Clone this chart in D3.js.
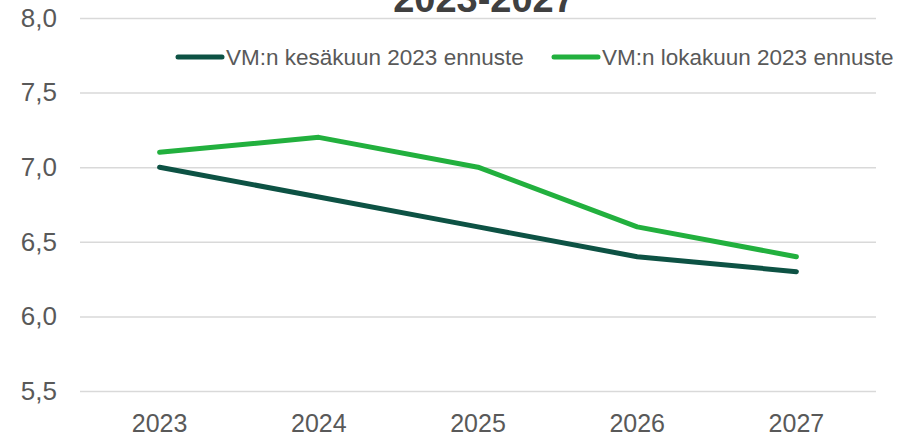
<!DOCTYPE html>
<html>
<head>
<meta charset="utf-8">
<script src="https://cdn.jsdelivr.net/npm/d3@7"></script>
<style>
  body { margin: 0; background: #fff; }
  .tickText { font-family: "Liberation Sans", Arial, sans-serif; fill: #595959; }
</style>
</head>
<body>
<div id="chart"></div>
<script>
const years = ['2023', '2024', '2025', '2026', '2027'];
const juneForecast = [7.0, 6.8, 6.6, 6.4, 6.3];
const octForecast = [7.1, 7.2, 7.0, 6.6, 6.4];
const seriesNames = ['VM:n kesäkuun 2023 ennuste', 'VM:n lokakuun 2023 ennuste'];
const seriesColors = ['#0d5244', '#22b03e'];
const yTicks = [5.5, 6.0, 6.5, 7.0, 7.5, 8.0];
const titleText = '2023-2027';

const width = 918, height = 438;
const margin = {top: 18, right: 42, bottom: 47, left: 80};

const svg = d3.select('#chart').append('svg')
    .attr('width', width)
    .attr('height', height);

const x = d3.scaleBand()
    .domain(years)
    .range([margin.left, width - margin.right]);

const y = d3.scaleLinear()
    .domain([5.5, 8.0])
    .range([height - margin.bottom, margin.top]);

const fmt = d => d.toFixed(1).replace('.', ',');

// gridlines + y labels
const yAxis = d3.axisLeft(y)
    .tickValues(yTicks)
    .tickSize(-(width - margin.left - margin.right))
    .tickFormat(fmt);

const gy = svg.append('g')
    .attr('transform', `translate(${margin.left},0)`)
    .call(yAxis);
gy.select('.domain').remove();
gy.selectAll('.tick line').attr('stroke', '#d9d9d9').attr('stroke-width', 1.5);
gy.selectAll('.tick text')
    .attr('class', 'tickText')
    .attr('x', -23)
    .style('font-size', '26px');

// x labels
const xAxis = d3.axisBottom(x).tickSize(0);
const gx = svg.append('g')
    .attr('transform', `translate(0,${height - margin.bottom})`)
    .call(xAxis);
gx.select('.domain').remove();
gx.selectAll('.tick text')
    .attr('class', 'tickText')
    .attr('y', 41)
    .attr('dy', 0)
    .style('font-size', '25px');

// title (partly cut off at top, as in the source)
svg.append('text')
    .attr('x', 484)
    .attr('y', 12)
    .attr('text-anchor', 'middle')
    .style('font-family', '"Liberation Sans", Arial, sans-serif')
    .style('font-weight', 'bold')
    .style('font-size', '38px')
    .style('fill', '#404040')
    .text(titleText);

// lines
const line = d3.line()
    .x((d, i) => x(years[i]) + x.bandwidth() / 2)
    .y(d => y(d));

[juneForecast, octForecast].forEach((vals, k) => {
    svg.append('path')
        .datum(vals)
        .attr('fill', 'none')
        .attr('stroke', seriesColors[k])
        .attr('stroke-width', 5)
        .attr('stroke-linejoin', 'round')
        .attr('stroke-linecap', 'round')
        .attr('d', line);
});

// legend
const legendPos = [178, 554];
seriesNames.forEach((name, k) => {
    const g = svg.append('g').attr('transform', `translate(${legendPos[k]},57)`);
    g.append('line')
        .attr('x1', 0).attr('x2', 44)
        .attr('stroke', seriesColors[k])
        .attr('stroke-width', 5)
        .attr('stroke-linecap', 'round');
    g.append('text')
        .attr('x', 48)
        .attr('dy', '0.35em')
        .style('font-family', '"Liberation Sans", Arial, sans-serif')
        .style('font-size', '22.5px')
        .style('fill', '#595959')
        .text(name);
});
</script>
</body>
</html>
